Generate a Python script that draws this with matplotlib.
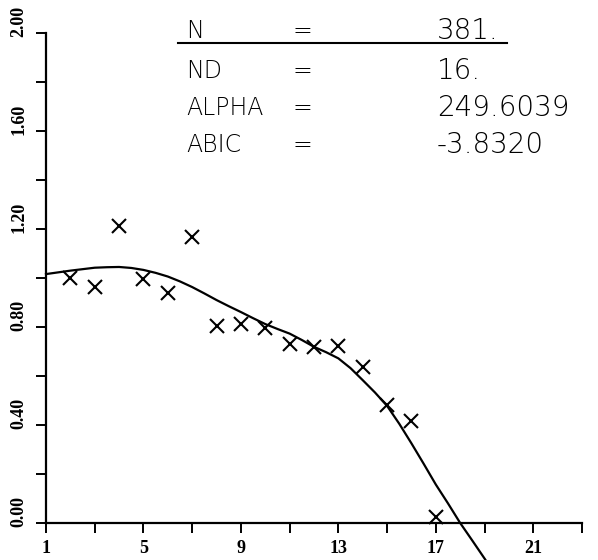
import matplotlib
matplotlib.use("Agg")
import matplotlib.pyplot as plt
import matplotlib.transforms as mtransforms

# ---- data ----
x_obs = [2, 3, 4, 5, 6, 7, 8, 9, 10, 11, 12, 13, 14, 15, 16, 17]
y_obs = [1.00, 0.962, 1.212, 0.995, 0.938, 1.169, 0.804, 0.812, 0.797,
         0.731, 0.720, 0.724, 0.638, 0.480, 0.416, 0.023]

x_curve = [1, 1.5, 2, 2.5, 3, 3.5, 4, 4.5, 5, 5.5, 6, 6.5, 7, 7.5, 8, 8.5,
           9, 9.5, 10, 10.5, 11, 11.5, 12, 12.5, 13, 13.5, 14, 14.5, 15,
           15.5, 16, 16.5, 17, 17.5, 18, 18.5, 19, 19.3]
y_curve = [1.016, 1.023, 1.030, 1.036, 1.042, 1.044, 1.045, 1.041, 1.033,
           1.021, 1.006, 0.986, 0.963, 0.937, 0.910, 0.885, 0.861, 0.836,
           0.812, 0.792, 0.773, 0.747, 0.719, 0.697, 0.672, 0.632, 0.583,
           0.533, 0.478, 0.405, 0.325, 0.242, 0.157, 0.080, 0.000, -0.072,
           -0.145, -0.19]

xtick_major = [1, 3, 5, 7, 9, 11, 13, 15, 17, 19, 21, 23]
xtick_labels = ["1", "", "5", "", "9", "", "13", "", "17", "", "21", ""]
ytick_major = [0.0, 0.2, 0.4, 0.6, 0.8, 1.0, 1.2, 1.4, 1.6, 1.8, 2.0]
ylabel_vals = [0.0, 0.4, 0.8, 1.2, 1.6, 2.0]
ylabel_text = ["0.00", "0.40", "0.80", "1.20", "1.60", "2.00"]

table_names = ["N", "ND", "ALPHA", "ABIC"]
table_values = ["381.", "16.", "249.6039", "-3.8320"]

# ---- figure ----
W, H = 598, 560
fig = plt.figure(figsize=(W / 100, H / 100), dpi=100)
fig.patch.set_facecolor("white")
L, R, B, T = 46, 582, 523, 33
ax = fig.add_axes([L / W, 1 - B / H, (R - L) / W, (B - T) / H])
ax.set_xlim(1, 23)
ax.set_ylim(0, 2.0)
ax.patch.set_alpha(0)

for s in ["top", "right"]:
    ax.spines[s].set_visible(False)
for s in ["left", "bottom"]:
    ax.spines[s].set_linewidth(1.6)
    ax.spines[s].set_color("black")

ax.set_xticks(xtick_major)
ax.set_xticklabels(xtick_labels)
ax.set_yticks(ytick_major)
ax.set_yticklabels([])
ax.tick_params(axis="both", direction="out", length=7, width=1.4, colors="black")
ax.tick_params(axis="x", pad=5)
for lab in ax.get_xticklabels():
    lab.set_fontfamily("Liberation Serif")
    lab.set_fontweight("bold")
    lab.set_fontsize(13)

# rotated y tick labels
trans = mtransforms.blended_transform_factory(ax.transAxes, ax.transData)
shift = mtransforms.ScaledTranslation(0, -4 / 100, fig.dpi_scale_trans)
for v, t in zip(ylabel_vals, ylabel_text):
    ax.text(-0.05, v, t, transform=trans + shift, rotation=90,
            ha="center", va="bottom", fontsize=13,
            fontfamily="Liberation Serif", fontweight="bold")

# data marks and fitted curve
ax.plot(x_obs, y_obs, linestyle="none", marker="x", markersize=9.5,
        markeredgewidth=1.5, color="black", clip_on=False, zorder=3)
ax.plot(x_curve, y_curve, color="black", linewidth=1.6, clip_on=False,
        zorder=2)

# parameter table
row_y = [1.004, 0.922, 0.847, 0.771]
for yy, nm, val in zip(row_y, table_names, table_values):
    ax.text(0.261, yy, nm, transform=ax.transAxes, fontsize=17,
            fontfamily="DejaVu Sans", fontweight="light",
            ha="left", va="center")
    ax.text(0.478, yy, "=", transform=ax.transAxes, fontsize=17,
            fontfamily="DejaVu Sans", fontweight="light",
            ha="center", va="center")
    ax.text(0.729, yy, val, transform=ax.transAxes, fontsize=20,
            fontfamily="DejaVu Sans", fontweight="light",
            ha="left", va="center")
ax.plot([0.246, 0.860], [0.980, 0.980], transform=ax.transAxes,
        color="black", linewidth=1.5, clip_on=False)

fig.savefig("out.png", dpi=100, facecolor="white")
